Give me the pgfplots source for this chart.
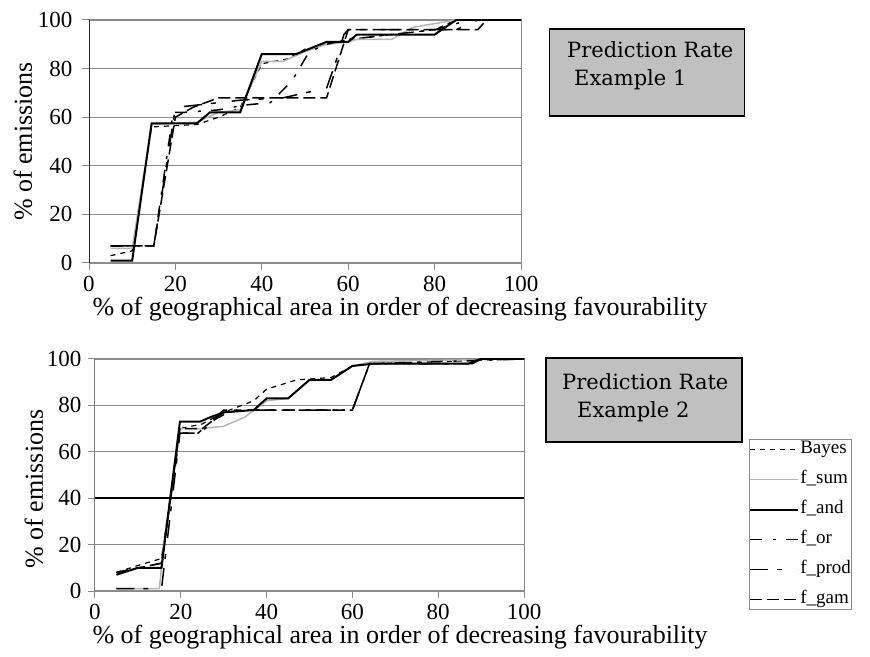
\documentclass[border=0pt]{standalone}
\usepackage{fontspec}
\setmainfont{Liberation Serif}
\newfontfamily\boxfont{DejaVu Serif}
\usepackage{pgfplots}
\pgfplotsset{compat=1.18}

\definecolor{silver}{HTML}{C0C0C0}
\definecolor{gridgray}{HTML}{8A8A8A}
\definecolor{sumgray}{HTML}{B4B4B4}

\pgfplotsset{
  emis/.style={
    scale only axis,
    xmin=0, xmax=100, ymin=0, ymax=100,
    xtick={0,20,...,100},
    xtick pos=bottom, ytick pos=left,
    ymajorgrids,
    grid style={gridgray, line width=1.2pt},
    tick align=outside,
    major tick length=7pt,
    tick style={gridgray, line width=1pt},
    axis line style={gridgray, line width=1pt},
    ticklabel style={font=\fontsize{23}{26}\selectfont},
    /pgf/number format/assume math mode=true,
    label style={font=\fontsize{26}{29}\selectfont},
    xticklabel style={yshift=-3pt},
    xlabel={\% of geographical area in order of decreasing favourability},
    ylabel={\% of emissions},
  },
  bayes/.style={black, line width=1.2pt, dash pattern=on 5pt off 5pt},
  fsum/.style={sumgray, line width=1.5pt},
  fand/.style={black, line width=2pt},
  for/.style={black, line width=1.5pt, dash pattern=on 12pt off 11pt on 3pt off 10pt},
  fprod/.style={black, line width=1.5pt, dash pattern=on 18pt off 9pt on 5pt off 16pt},
  fgam/.style={black, line width=1.5pt, dash pattern=on 12pt off 5pt},
}

\begin{document}
\begin{tikzpicture}

% ---- Example 1 ----
\begin{axis}[emis,
    at={(89pt,393pt)}, anchor=south west,
    width=432pt, height=243pt,
    ytick={0,20,...,100},
    yticklabel style={xshift=-6pt},
    xlabel style={at={(axis description cs:0,0)}, anchor=west, xshift=0pt, yshift=-46pt},
    ylabel style={at={(axis description cs:0,0.5)}, anchor=center, yshift=66pt},
]
\addplot[bayes] coordinates {
  (5,3) (10,5) (14.5,56) (25,57) (30,60) (35,64) (40,82) (46,84)
  (50,88) (55,90) (60,92) (70,94) (80,96) (85,100) (100,100)};
\addplot[fsum] coordinates {
  (5,6) (10,6) (14.5,57) (25,58) (30,62) (35,63) (40,83) (45,83)
  (50,87) (55,90) (60,91) (62,92) (70,92) (75,97) (85,100) (100,100)};
\addplot[fand] coordinates {
  (5,1) (10,1) (14.5,57.5) (25,57.5) (28,62) (35,62) (40,86) (48,86)
  (55,91) (60,91) (62,94) (80,94) (85,100) (100,100)};
\addplot[for] coordinates {
  (5,7) (15,7) (19.5,62) (22,62) (30,63) (36,65) (42,66) (47,75)
  (51,87) (55,90) (60,92) (70,94) (80,96) (88,100) (100,100)};
\addplot[fprod] coordinates {
  (5,7) (15,7) (20,64) (25,65) (35,67) (45,68) (55,72) (57,82)
  (59,94) (60,96) (85,96) (90,100) (100,100)};
\addplot[fgam] coordinates {
  (5,7) (15,7) (20,60) (24,64) (30,68) (55,68) (60,96) (90,96)
  (92,100) (100,100)};
\draw[black!85, line width=1pt] (rel axis cs:0,0) -- (rel axis cs:0,1);
\end{axis}

% ---- Example 2 ----
\begin{axis}[emis,
    at={(95pt,65pt)}, anchor=south west,
    width=429pt, height=232pt,
    ytick={0,20,60,80,100},
    extra y ticks={40},
    extra y tick style={grid style={black, line width=1.4pt}},
    yticklabel style={xshift=-3pt},
    xlabel style={at={(axis description cs:0,0)}, anchor=west, xshift=-6pt, yshift=-46pt},
    ylabel style={at={(axis description cs:0,0.5)}, anchor=center, yshift=61pt, xshift=-14pt},
    legend style={at={(axis description cs:1.524,0.655)}, anchor=north west,
      draw=gridgray, line width=1pt, font=\fontsize{19}{21}\selectfont,
      inner sep=0pt, row sep=10pt,
      nodes={inner sep=1pt, text height=13pt, text depth=5pt}},
    legend cell align=left,
    legend image code/.code={\draw[#1] (0pt,0pt) -- (48pt,0pt);},
]
\addplot[bayes] coordinates {
  (5,8) (10,11) (15.5,14) (19.8,70) (25,72) (30,77) (37,82) (40,87)
  (47,91) (55,92) (60,97) (65,98) (100,100)};
\addplot[fsum] coordinates {
  (5,1) (15,1) (16,20) (19.8,70) (25,70) (30,71) (35,75) (40,82)
  (45,83) (50,91) (55,91) (60,97) (65,99) (100,100)};
\addplot[fand] coordinates {
  (5,7) (10,10) (15.5,10) (19.8,73) (24.5,73) (27,75) (30,77) (37,78)
  (40,83) (45,83) (50,91) (55,91) (60,97) (65,98) (87,98) (90,100) (100,100)};
\addplot[for] coordinates {
  (5,8) (15.5,12) (19.8,68) (24.5,68) (28,74) (32,78) (60,78) (62,88)
  (64,98) (100,100)};
\addplot[fprod] coordinates {
  (5,1) (15.5,1) (19.8,68) (24,68) (30,78) (60,78) (64,98) (88,98)
  (90,100) (100,100)};
\addplot[fgam] coordinates {
  (5,8) (15.5,12) (19.8,70) (25,70) (30,77) (36,78) (60,78) (64,98)
  (87,98) (90,100) (100,100)};
\legend{Bayes, f\_sum, f\_and, f\_or, f\_prod, f\_gam}
\draw[black!85, line width=1pt] (rel axis cs:0,0) -- (rel axis cs:0,1);
\end{axis}

% title boxes
\node[draw=black, line width=1.5pt, fill=silver, minimum width=195pt,
  minimum height=87pt] at (647pt,583.5pt) {};
\node[anchor=north west, inner sep=0pt, align=left,
  font=\boxfont\fontsize{21}{28}\selectfont]
  at (567pt,615pt) {Prediction Rate\\\hspace{7pt}Example 1};
\node[draw=black, line width=1.5pt, fill=silver, minimum width=196pt,
  minimum height=84pt] at (644pt,256pt) {};
\node[anchor=north west, inner sep=0pt, align=left,
  font=\boxfont\fontsize{21}{28}\selectfont]
  at (562pt,283pt) {Prediction Rate\\\hspace{15pt}Example 2};

\pgfresetboundingbox
\path[use as bounding box] (0,0) rectangle (870pt,656pt);
\end{tikzpicture}
\end{document}
